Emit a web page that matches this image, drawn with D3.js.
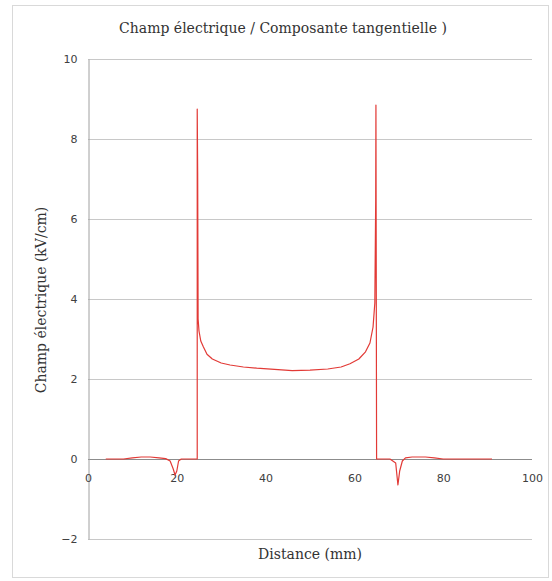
<!DOCTYPE html>
<html><head><meta charset="utf-8">
<script src="https://cdn.jsdelivr.net/npm/d3@7"></script>
<style>body{margin:0;background:#fff;}svg{display:block;}</style>
</head><body>
<script>
const titleText = "Champ électrique / Composante tangentielle )";
const xTitle = "Distance (mm)";
const yTitle = "Champ électrique (kV/cm)";
const xTicks = [0, 20, 40, 60, 80, 100];
const yTicks = [-2, 0, 2, 4, 6, 8, 10];
const distance = [4, 8, 10, 12, 14, 16, 17.5, 18.5, 19.2, 19.6, 20, 20.4, 21, 22, 24, 24.6, 24.6, 24.7, 24.8, 25, 25.4, 26, 26.8, 28, 30, 32, 35, 38, 42, 46, 50, 54, 57, 59, 61, 62.5, 63.5, 64.2, 64.6, 64.8, 64.85, 65, 66, 68, 69.3, 69.8, 70.2, 70.8, 71.5, 73, 76, 78, 80, 85, 91];
const field =    [0, 0, 0.03, 0.05, 0.05, 0.03, 0.01, -0.05, -0.25, -0.4, -0.3, -0.05, 0, 0, 0, 0, 8.75, 7.15, 3.5, 3.2, 2.95, 2.8, 2.62, 2.5, 2.4, 2.35, 2.3, 2.27, 2.24, 2.21, 2.22, 2.25, 2.3, 2.38, 2.5, 2.68, 2.9, 3.3, 3.9, 6.5, 8.85, 0, 0, 0, -0.1, -0.65, -0.3, -0.05, 0.03, 0.05, 0.05, 0.03, 0, 0, 0];

const W = 552, H = 581;
const svg = d3.select("body").append("svg").attr("width", W).attr("height", H);
svg.append("rect").attr("x", 12.5).attr("y", 5.5).attr("width", 536).attr("height", 572)
  .attr("fill", "#fff").attr("stroke", "#d9d9d9");

const x = d3.scaleLinear().domain([0, 100]).range([88, 532]);
const y = d3.scaleLinear().domain([-2, 10]).range([539, 59]);

// gridlines
svg.append("g").selectAll("line").data(yTicks).join("line")
  .attr("x1", x(0)).attr("x2", x(100))
  .attr("y1", d => Math.round(y(d)) + 0.5).attr("y2", d => Math.round(y(d)) + 0.5)
  .attr("stroke", d => d === 0 ? "#8c8c8c" : "#c8c8c8").attr("stroke-width", 1);

const tickFont = "DejaVu Sans, Verdana, sans-serif";
// y axis
const yAxis = svg.append("g").attr("transform", `translate(${x(0) + 0.5},0)`)
  .call(d3.axisLeft(y).tickValues(yTicks).tickSize(0).tickPadding(11));
yAxis.select(".domain").attr("stroke", "#a0a0a0");
yAxis.selectAll("text").attr("font-family", tickFont).attr("font-size", 11).attr("fill", "#404040");

// x axis at y=0
const xAxis = svg.append("g").attr("transform", `translate(0,${Math.round(y(0)) + 0.5})`)
  .call(d3.axisBottom(x).tickValues(xTicks).tickSize(0).tickPadding(15));
xAxis.select(".domain").remove();
xAxis.selectAll("text").attr("font-family", tickFont).attr("font-size", 11).attr("fill", "#404040");

// line
const pts = distance.map((d, i) => [d, field[i]]);
svg.append("path").datum(pts)
  .attr("fill", "none").attr("stroke", "#e23a36").attr("stroke-width", 1.2)
  .attr("stroke-linejoin", "round")
  .attr("d", d3.line().x(d => x(d[0])).y(d => y(d[1])));

// titles
const titleFont = "DejaVu Serif, Liberation Serif, serif";
svg.append("text").attr("x", 283).attr("y", 33).attr("text-anchor", "middle")
  .attr("font-family", titleFont).attr("font-size", 14).attr("fill", "#333")
  .text(titleText);
svg.append("text").attr("x", 310).attr("y", 559).attr("text-anchor", "middle")
  .attr("font-family", titleFont).attr("font-size", 14).attr("fill", "#333")
  .text(xTitle);
svg.append("text").attr("transform", "translate(46,300) rotate(-90)").attr("text-anchor", "middle")
  .attr("font-family", titleFont).attr("font-size", 14).attr("fill", "#333")
  .text(yTitle);
</script>
</body></html>
